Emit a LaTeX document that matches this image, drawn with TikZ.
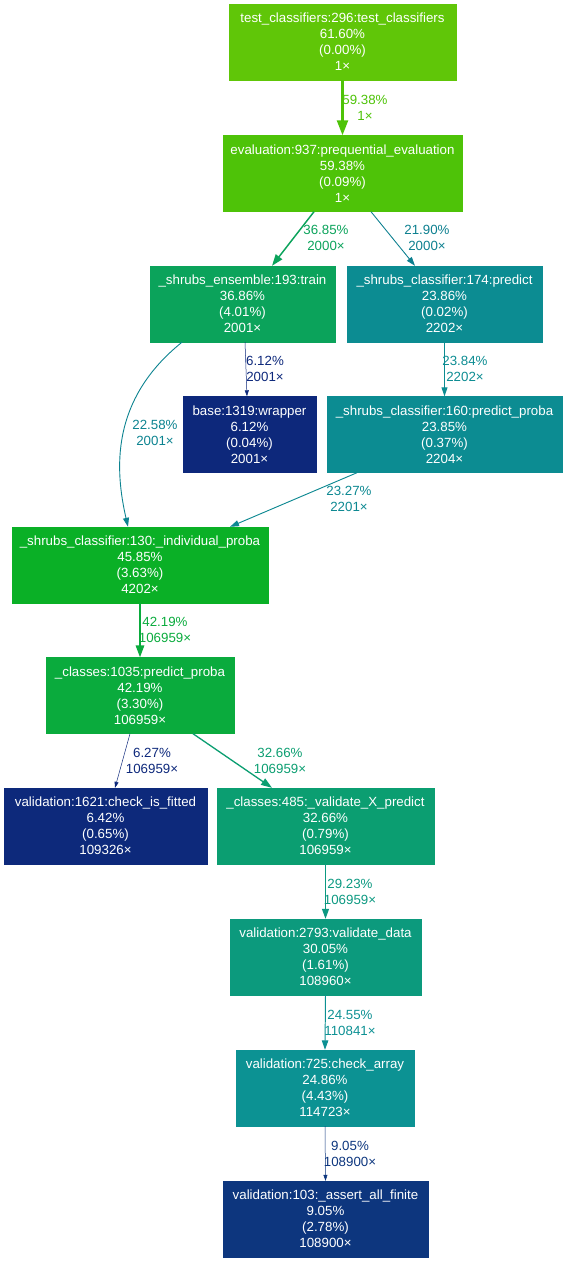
\documentclass[tikz,border=0pt]{standalone}
\usepackage{fontspec}
\setmainfont{Liberation Sans}
\usetikzlibrary{arrows.meta,calc}
\definecolor{cA}{HTML}{60C608}
\definecolor{cB}{HTML}{4EC308}
\definecolor{cC}{HTML}{0BA35B}
\definecolor{cD}{HTML}{0C8C92}
\definecolor{cE}{HTML}{0D287B}
\definecolor{cG}{HTML}{0AB026}
\definecolor{cH}{HTML}{0AAB3D}
\definecolor{cI}{HTML}{0D297B}
\definecolor{cJ}{HTML}{0B9E71}
\definecolor{cK}{HTML}{0C9A7D}
\definecolor{cL}{HTML}{0C9293}
\definecolor{cM}{HTML}{0D367E}
\definecolor{eBD}{HTML}{0C7F8F}
\definecolor{eCG}{HTML}{0C8390}
\definecolor{eFG}{HTML}{0C8891}
\definecolor{eJK}{HTML}{0C9981}
\definecolor{eKL}{HTML}{0C9093}
\begin{document}
\begin{tikzpicture}[x=1pt,y=-1pt,
  box/.style n args={3}{rectangle, inner sep=0pt, text=white, align=center,
    font=\fontsize{13.3}{16}\selectfont, fill=#1, draw=#1, line width=0.4pt,
    minimum width=#2pt, minimum height=#3pt},
  lbl/.style={inner sep=0pt, align=center, font=\fontsize{13.3}{16}\selectfont, text=#1},
  conn/.style n args={4}{draw=#1, line width=#2pt, -{Triangle[length=#3pt,width=#4pt]}}
  ]
\useasboundingbox (0,0) rectangle (566,1261);
% nodes
\node[box={cA}{227}{76}] (n1) at (342.5,42) {test\_classifiers:296:test\_classifiers\\61.60\%\\(0.00\%)\\1×};
\node[box={cB}{239}{76}] (n2) at (342.5,173.5) {evaluation:937:prequential\_evaluation\\59.38\%\\(0.09\%)\\1×};
\node[box={cC}{185}{76}] (n3) at (242.5,304) {\_shrubs\_ensemble:193:train\\36.86\%\\(4.01\%)\\2001×};
\node[box={cD}{195}{76}] (n4) at (444.5,304) {\_shrubs\_classifier:174:predict\\23.86\%\\(0.02\%)\\2202×};
\node[box={cE}{133}{76}] (n5) at (249.5,434.5) {base:1319:wrapper\\6.12\%\\(0.04\%)\\2001×};
\node[box={cD}{235}{76}] (n6) at (444.5,434.5) {\_shrubs\_classifier:160:predict\_proba\\23.85\%\\(0.37\%)\\2204×};
\node[box={cG}{256}{76}] (n7) at (140,565) {\_shrubs\_classifier:130:\_individual\_proba\\45.85\%\\(3.63\%)\\4202×};
\node[box={cH}{188}{76}] (n8) at (140,695.5) {\_classes:1035:predict\_proba\\42.19\%\\(3.30\%)\\106959×};
\node[box={cI}{203}{76}] (n9) at (105.5,826) {validation:1621:check\_is\_fitted\\6.42\%\\(0.65\%)\\109326×};
\node[box={cJ}{217}{76}] (n10) at (325.5,826) {\_classes:485:\_validate\_X\_predict\\32.66\%\\(0.79\%)\\106959×};
\node[box={cK}{191}{76}] (n11) at (325.5,957) {validation:2793:validate\_data\\30.05\%\\(1.61\%)\\108960×};
\node[box={cL}{178}{76}] (n12) at (325,1088) {validation:725:check\_array\\24.86\%\\(4.43\%)\\114723×};
\node[box={cM}{205}{76}] (n13) at (325.5,1219) {validation:103:\_assert\_all\_finite\\9.05\%\\(2.78\%)\\108900×};
% connectors
\draw[conn={cB}{2.375}{15}{11}] (n1) -- (n2);
\draw[conn={cC}{1.47}{11.5}{8}] ($(n2.south)+(-28.5,0)$) -- ($(n3.north)+(29.5,0)$);
\draw[conn={eBD}{0.88}{9}{6}] ($(n2.south)+(28.5,0)$) -- ($(n4.north)+(-29.5,0)$);
\draw[conn={cE}{0.5}{6}{4}] ($(n3.south)+(2.5,0)$) -- ($(n5.north)+(-2.5,0)$);
\draw[conn={cD}{0.95}{9}{6}] (n4) -- (n6);
\draw[conn={eCG}{0.9}{9}{6}] ($(n3.south)+(-60.5,0)$) .. controls (110,400) and (115,470) .. ($(n7.north)+(-12,0)$);
\draw[conn={eFG}{0.93}{9}{6}] ($(n6.south)+(-87.5,0)$) -- ($(n7.north)+(90,0)$);
\draw[conn={cH}{1.69}{12}{8.5}] (n7) -- (n8);
\draw[conn={cE}{0.5}{6}{4}] ($(n8.south)+(-10,0)$) -- ($(n9.north)+(9.5,0)$);
\draw[conn={cJ}{1.31}{11}{7.5}] ($(n8.south)+(53,0)$) -- ($(n10.north)+(-53.5,0)$);
\draw[conn={eJK}{1.17}{10}{7}] (n10) -- (n11);
\draw[conn={eKL}{0.98}{9.5}{6.5}] (n11.south) -- (n12.north);
\draw[conn={cM}{0.5}{6}{4}] (n12.south) -- (n13.north);
% labels
\node[lbl=cB] (l1) at (365,108) {59.38\%\\1×};
\node[lbl=cC] (l2) at (326,238) {36.85\%\\2000×};
\node[lbl=eBD] (l3) at (427,238) {21.90\%\\2000×};
\node[lbl=cE] (l4) at (265,369) {6.12\%\\2001×};
\node[lbl=cD] (l5) at (465,369) {23.84\%\\2202×};
\node[lbl=eCG] (l6) at (155,433) {22.58\%\\2001×};
\node[lbl=eFG] (l7) at (349,499) {23.27\%\\2201×};
\node[lbl=cH] (l8) at (165,630) {42.19\%\\106959×};
\node[lbl=cE] (l9) at (152,761) {6.27\%\\106959×};
\node[lbl=cJ] (l10) at (280,761) {32.66\%\\106959×};
\node[lbl=eJK] (l11) at (350,892) {29.23\%\\106959×};
\node[lbl=eKL] (l12) at (350,1023) {24.55\%\\110841×};
\node[lbl=cM] (l13) at (350,1154) {9.05\%\\108900×};
\end{tikzpicture}
\end{document}
